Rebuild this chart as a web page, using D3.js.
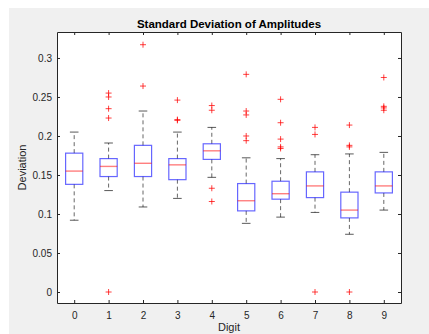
<!DOCTYPE html>
<meta charset="utf-8">
<style>
  body { margin: 0; background: #fff; }
  text { font-family: "Liberation Sans", Arial, sans-serif; }
</style>
<script src="https://d3js.org/d3.v7.min.js"></script>
<div id="chart"></div>
<script>
// box statistics per digit
var digits      = [0, 1, 2, 3, 4, 5, 6, 7, 8, 9];
var whiskerLow  = [0.092, 0.130, 0.109, 0.120, 0.147, 0.088, 0.096, 0.102, 0.074, 0.105];
var q1          = [0.138, 0.148, 0.148, 0.144, 0.170, 0.104, 0.119, 0.121, 0.095, 0.127];
var medians     = [0.155, 0.161, 0.165, 0.163, 0.181, 0.117, 0.126, 0.136, 0.105, 0.136];
var q3          = [0.178, 0.171, 0.188, 0.171, 0.190, 0.139, 0.142, 0.154, 0.128, 0.154];
var whiskerHigh = [0.205, 0.191, 0.232, 0.205, 0.211, 0.172, 0.171, 0.176, 0.177, 0.179];
var outliers = [
  [],
  [0.255, 0.250, 0.235, 0.223, 0],
  [0.317, 0.264],
  [0.246, 0.221, 0.220],
  [0.239, 0.233, 0.133, 0.116],
  [0.279, 0.232, 0.227, 0.200, 0.194],
  [0.247, 0.217, 0.196, 0.186, 0.184],
  [0.211, 0.202, 0],
  [0.214, 0.188, 0.186, 0],
  [0.275, 0.238, 0.236, 0.233]
];
var yTicks = [0, 0.05, 0.1, 0.15, 0.2, 0.25, 0.3];

var W = 429, H = 334;
var margin = {top: 32, right: 28, bottom: 31, left: 57},
    width = 401 - margin.left,
    height = 303 - margin.top;

var svg = d3.select("#chart").append("svg")
    .attr("width", W)
    .attr("height", H);

// figure background
svg.append("rect")
    .attr("x", 9).attr("y", 8)
    .attr("width", W - 9).attr("height", H - 8)
    .attr("fill", "#f0f0f0");

var g = svg.append("g")
    .attr("transform", "translate(" + margin.left + "," + margin.top + ")");

g.append("rect")
    .attr("width", width).attr("height", height)
    .attr("fill", "#fff");

var x = d3.scaleLinear().domain([-0.5, 9.5]).range([0, width]);
var y = d3.scaleLinear().domain([-0.0141, 0.3333]).range([height, 0]);

var boxW = x(0.25) - x(0);
var capW = x(0.125) - x(0);

var rows = digits.map(function(d, i) {
  return {d: d, lo: whiskerLow[i], q1: q1[i], med: medians[i], q3: q3[i], hi: whiskerHigh[i], out: outliers[i]};
});

var box = g.selectAll(".box").data(rows).enter().append("g").attr("class", "box");

// dashed whiskers
box.append("line")
    .attr("x1", function(d) { return x(d.d); }).attr("x2", function(d) { return x(d.d); })
    .attr("y1", function(d) { return y(d.q3); }).attr("y2", function(d) { return y(d.hi); })
    .attr("stroke", "#000").attr("stroke-opacity", 0.6)
    .attr("stroke-dasharray", "4,3");
box.append("line")
    .attr("x1", function(d) { return x(d.d); }).attr("x2", function(d) { return x(d.d); })
    .attr("y1", function(d) { return y(d.q1); }).attr("y2", function(d) { return y(d.lo); })
    .attr("stroke", "#000").attr("stroke-opacity", 0.6)
    .attr("stroke-dasharray", "4,3");

// caps
["hi", "lo"].forEach(function(k) {
  box.append("line")
      .attr("x1", function(d) { return x(d.d) - capW; }).attr("x2", function(d) { return x(d.d) + capW; })
      .attr("y1", function(d) { return y(d[k]); }).attr("y2", function(d) { return y(d[k]); })
      .attr("stroke", "#000").attr("stroke-opacity", 0.65);
});

// boxes
box.append("rect")
    .attr("x", function(d) { return x(d.d) - boxW; })
    .attr("y", function(d) { return y(d.q3); })
    .attr("width", 2 * boxW)
    .attr("height", function(d) { return y(d.q1) - y(d.q3); })
    .attr("fill", "none")
    .attr("stroke", "#0000ff").attr("stroke-opacity", 0.6).attr("stroke-width", 1.2);

// medians
box.append("line")
    .attr("x1", function(d) { return x(d.d) - boxW; }).attr("x2", function(d) { return x(d.d) + boxW; })
    .attr("y1", function(d) { return y(d.med); }).attr("y2", function(d) { return y(d.med); })
    .attr("stroke", "#ff0000").attr("stroke-opacity", 0.5).attr("stroke-width", 1.4);

// outliers as red plus signs
var pts = [];
rows.forEach(function(r) { r.out.forEach(function(v) { pts.push({d: r.d, v: v}); }); });
g.selectAll(".out").data(pts).enter().append("path")
    .attr("class", "out")
    .attr("transform", function(d) { return "translate(" + x(d.d) + "," + y(d.v) + ")"; })
    .attr("d", "M-3,0H3M0,-3V3")
    .attr("stroke", "#ff0000").attr("stroke-opacity", 0.75).attr("fill", "none");

// axes, ticks pointing inward
function styleAxis(sel) {
  sel.selectAll("path").attr("stroke", "#262626");
  sel.selectAll("line").attr("stroke", "#262626");
  sel.selectAll("text").attr("fill", "#262626").style("font-size", "10px")
     .style("font-family", "'Liberation Sans', Arial, sans-serif");
}

g.append("g")
    .attr("transform", "translate(0," + height + ")")
    .call(d3.axisBottom(x).tickValues(digits).tickSize(-3).tickSizeOuter(0).tickPadding(9).tickFormat(d3.format("d")))
    .call(styleAxis);
g.append("g")
    .call(d3.axisTop(x).tickValues(digits).tickSize(-3).tickSizeOuter(0).tickFormat(""))
    .call(styleAxis);
g.append("g")
    .call(d3.axisLeft(y).tickValues(yTicks).tickSize(-3).tickSizeOuter(0).tickPadding(5).tickFormat(d3.format("~g")))
    .call(styleAxis);
g.append("g")
    .attr("transform", "translate(" + width + ",0)")
    .call(d3.axisRight(y).tickValues(yTicks).tickSize(-3).tickSizeOuter(0).tickFormat(""))
    .call(styleAxis);
g.selectAll(".domain").attr("stroke-width", 1);

// labels
svg.append("text")
    .attr("x", margin.left + width / 2).attr("y", 27.5)
    .attr("text-anchor", "middle")
    .style("font-size", "11.5px").style("font-weight", "bold")
    .attr("fill", "#000")
    .text("Standard Deviation of Amplitudes");

svg.append("text")
    .attr("x", margin.left + width / 2).attr("y", 330.5)
    .attr("text-anchor", "middle")
    .style("font-size", "11px")
    .attr("fill", "#262626")
    .text("Digit");

svg.append("text")
    .attr("transform", "translate(26," + (margin.top + height / 2) + ") rotate(-90)")
    .attr("text-anchor", "middle")
    .style("font-size", "11px")
    .attr("fill", "#262626")
    .text("Deviation");
</script>
